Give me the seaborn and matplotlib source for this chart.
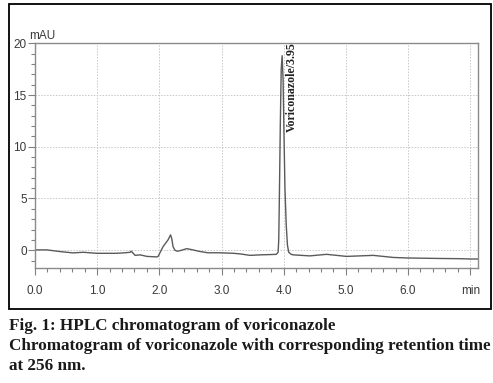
import matplotlib
matplotlib.use("Agg")
import matplotlib.pyplot as plt
import seaborn as sns
import pandas as pd
from matplotlib.patches import Rectangle
from matplotlib.ticker import MultipleLocator, FixedLocator

# Retention time (min) and absorbance (mAU)
time_min = [0.00, 0.19, 0.40, 0.61, 0.78, 0.99, 1.31, 1.45, 1.53, 1.55, 1.61, 1.69,
            1.80, 1.96, 1.98, 2.06, 2.14, 2.18, 2.20, 2.22, 2.25, 2.29, 2.36, 2.44,
            2.54, 2.63, 2.78, 2.97, 3.19, 3.30, 3.46, 3.62, 3.80, 3.88, 3.91, 3.92,
            3.93, 3.945, 3.96, 3.975, 3.99, 4.005, 4.02, 4.04, 4.06, 4.08, 4.12, 4.15,
            4.42, 4.69, 5.01, 5.44, 5.76, 5.98, 6.51, 6.83, 7.00, 7.12]
signal_mau = [0.03, 0.03, -0.13, -0.26, -0.20, -0.30, -0.30, -0.25, -0.20, -0.10, -0.50, -0.45,
              -0.60, -0.65, -0.60, 0.35, 1.00, 1.48, 1.10, 0.35, 0.00, -0.10, 0.00, 0.15,
              0.03, -0.10, -0.25, -0.25, -0.30, -0.36, -0.50, -0.45, -0.42, -0.40, -0.20, 1.00,
              5.00, 12.00, 17.50, 18.80, 16.50, 11.00, 6.00, 2.50, 0.50, -0.20, -0.40, -0.45,
              -0.55, -0.40, -0.60, -0.50, -0.70, -0.75, -0.80, -0.82, -0.85, -0.85]

x_ticks = [0, 1, 2, 3, 4, 5, 6, 7]
x_tick_labels = ["0.0", "1.0", "2.0", "3.0", "4.0", "5.0", "6.0", "min"]
y_ticks = [0, 5, 10, 15, 20]
y_tick_labels = ["0", "5", "10", "15", "20"]
peak_label = "Voriconazole/3.95"
peak_time = 3.975
caption_lines = ["Fig. 1: HPLC chromatogram of voriconazole",
                 "Chromatogram of voriconazole with corresponding retention time",
                 "at 256 nm."]

df = pd.DataFrame({"time": time_min, "mAU": signal_mau})

sns.set_style("white")
W, H = 493, 383
fig = plt.figure(figsize=(W / 100, H / 100), dpi=100)
ax = fig.add_axes([35 / W, 1 - 268.3 / H, (477.7 - 35) / W, (268.3 - 43.3) / H])

sns.lineplot(data=df, x="time", y="mAU", ax=ax, color="#5a5a5a", linewidth=1.0)

ax.set_xlim(0, 7.12)
ax.set_ylim(-1.75, 20)
ax.set_xlabel("")
ax.set_ylabel("")

ax.xaxis.set_major_locator(FixedLocator(x_ticks))
ax.set_xticklabels(x_tick_labels)
ax.xaxis.set_minor_locator(MultipleLocator(0.2))
ax.yaxis.set_major_locator(FixedLocator(y_ticks))
ax.set_yticklabels(y_tick_labels)
ax.yaxis.set_minor_locator(MultipleLocator(1))

for lab in ax.get_xticklabels() + ax.get_yticklabels():
    lab.set_family("Liberation Sans")
    lab.set_fontsize(8.5)
    lab.set_color("#3a3a3a")

ax.tick_params(axis="both", which="major", direction="out", length=5, width=0.8,
               color="#808080", bottom=True, left=True)
ax.tick_params(axis="both", which="minor", direction="out", length=3, width=0.8,
               color="#808080", bottom=True, left=True)
ax.tick_params(axis="x", which="major", pad=7)
ax.tick_params(axis="y", which="major", pad=1)

for s in ax.spines.values():
    s.set_color("#8a8a8a")
    s.set_linewidth(1.0)

for xv in [1, 2, 3, 4, 5, 6, 7]:
    ax.axvline(xv, color="#c8c8c8", linestyle=(0, (1.5, 1.5)), linewidth=0.7, zorder=0)
for yv in [0, 5, 10, 15]:
    ax.axhline(yv, color="#c8c8c8", linestyle=(0, (1.5, 1.5)), linewidth=0.7, zorder=0)

ax.text(-0.1, 20.15, "mAU", fontsize=8.5, family="Liberation Sans", color="#3a3a3a",
        ha="left", va="bottom")

ax.text(peak_time + 0.06, 11.4, peak_label, rotation=90, fontsize=8.6,
        family="Liberation Serif", fontweight="bold", color="#222222",
        ha="left", va="bottom", clip_on=False)

fig.patches.append(Rectangle((9 / W, 1 - 308.5 / H), (490.7 - 9) / W, (308.5 - 4.3) / H,
                             transform=fig.transFigure, fill=False, edgecolor="black",
                             linewidth=1.3))

for i, (line, yc) in enumerate(zip(caption_lines, [326, 346, 366])):
    fig.text(9 / W, 1 - yc / H, line, family="Liberation Serif", fontweight="bold",
             fontsize=12.35, color="#1a1a1a", ha="left", va="center")

fig.savefig("out.png", dpi=100)
